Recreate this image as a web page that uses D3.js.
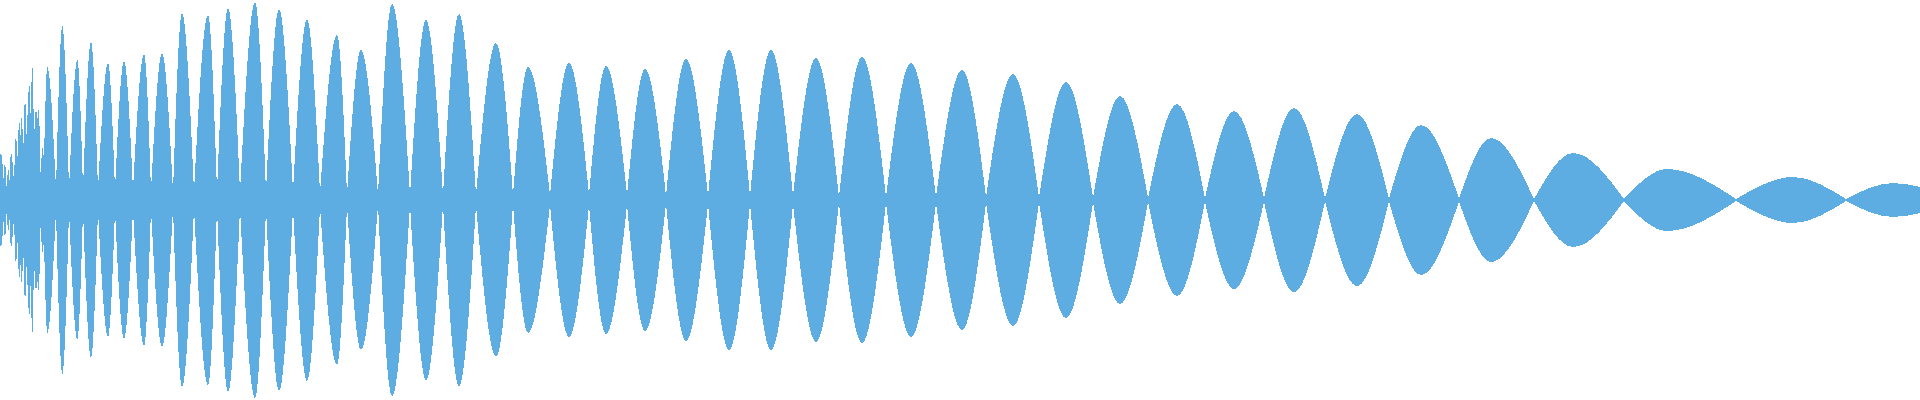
<!DOCTYPE html>
<html>
<head>
<meta charset="utf-8">
<script src="https://cdn.jsdelivr.net/npm/d3@7"></script>
<style>
  body { margin: 0; background: #fff; }
  svg { display: block; }
</style>
</head>
<body>
<svg class="wave" width="1920" height="400"></svg>
<script>
// sample index (2px per sample) and amplitude in percent of full scale
var nodeT = [0, 1.75, 3.35, 4.75, 7, 8.65, 10.15, 11.65, 13.35, 15.35, 17, 18.65, 20.35, 22,
  28, 34.5, 41.5, 49, 57.5, 66.5, 75.5, 86.5, 97, 108.5, 120, 133, 146.5, 160, 173.5, 189,
  205, 221.5, 238, 256.5, 275, 294.5, 313.5, 333, 354, 375, 396.5, 419.5, 443, 468, 493,
  519.5, 546.5, 574, 602.5, 632, 662.5, 694.5, 729.5, 767, 812, 868, 923, 960];

var nodeAmp = [21, 11, 5, 10, 8.5, 18.5, 30, 23.5, 30, 40, 30, 40, 9, 20,
  5, 5, 5, 5, 5, 5, 4.5, 4, 4, 4, 4, 4, 4, 3.5, 2.5, 2.5, 2.5, 2.5, 2.5, 2.5, 2.5, 2.5, 2.5,
  2, 2, 2, 2, 1.5, 1.5, 1.5, 1.5, 1.25, 1.25, 1, 1, 1, 0.75, 0.75, 0.75, 0.5, 0.5, 0.5, 0.5, 6.5];

var peakT = [0.5, 2.5, 4.15, 5.5, 8, 9.65, 10.85, 12.5, 14.65, 16.15, 18, 19.35, 21.15, 23.65,
  31.15, 38.65, 45.5, 54, 62, 72, 81, 91, 104, 114, 127.5, 139.5, 153.5, 168.5, 180.5, 196,
  213, 229.5, 248, 264, 284.5, 303, 322.5, 343, 364.5, 385.5, 408, 431, 455.5, 481, 506.5,
  533, 560, 588.5, 617, 647, 678.5, 710.5, 745.5, 786.5, 833.5, 896.5, 946.5];

var peakAmp = [23.5, 18.5, 15.5, 23.5, 32.5, 39, 41.5, 50.5, 57.5, 67, 45, 45, 26, 66.5,
  87, 70, 79, 68.5, 69.5, 73, 73.5, 93.5, 92.5, 96, 99, 95.5, 90.5, 82.5, 75, 98,
  90, 93, 78.5, 66.5, 68.5, 67, 65.5, 70.5, 75, 75, 71, 71.5, 68.5, 65, 63,
  59, 52, 48, 44.5, 46, 43, 37.5, 31, 23.5, 15.5, 11.5, 8.5];

var svg = d3.select(".wave"),
    width = +svg.attr("width"),
    height = +svg.attr("height");

var x = d3.scaleLinear().domain([0, 960]).range([0, width]);
var y = d3.scaleLinear().domain([-100, 100]).range([height, 0]);

// one lobe between each pair of nodes, peak in between
var lobes = peakT.map(function(p, i) {
  return [
    {t: nodeT[i], a: nodeAmp[i]},
    {t: p, a: peakAmp[i]},
    {t: nodeT[i + 1], a: nodeAmp[i + 1]}
  ];
});

var area = d3.area()
    .x(function(d) { return x(d.t); })
    .y0(function(d) { return y(-d.a); })
    .y1(function(d) { return y(d.a); })
    .curve(d3.curveMonotoneX);

svg.append("g")
    .selectAll("path")
    .data(lobes)
    .enter().append("path")
    .attr("d", area)
    .style("fill", "#5dade2")
    .style("shape-rendering", "crispEdges");
</script>
</body>
</html>
